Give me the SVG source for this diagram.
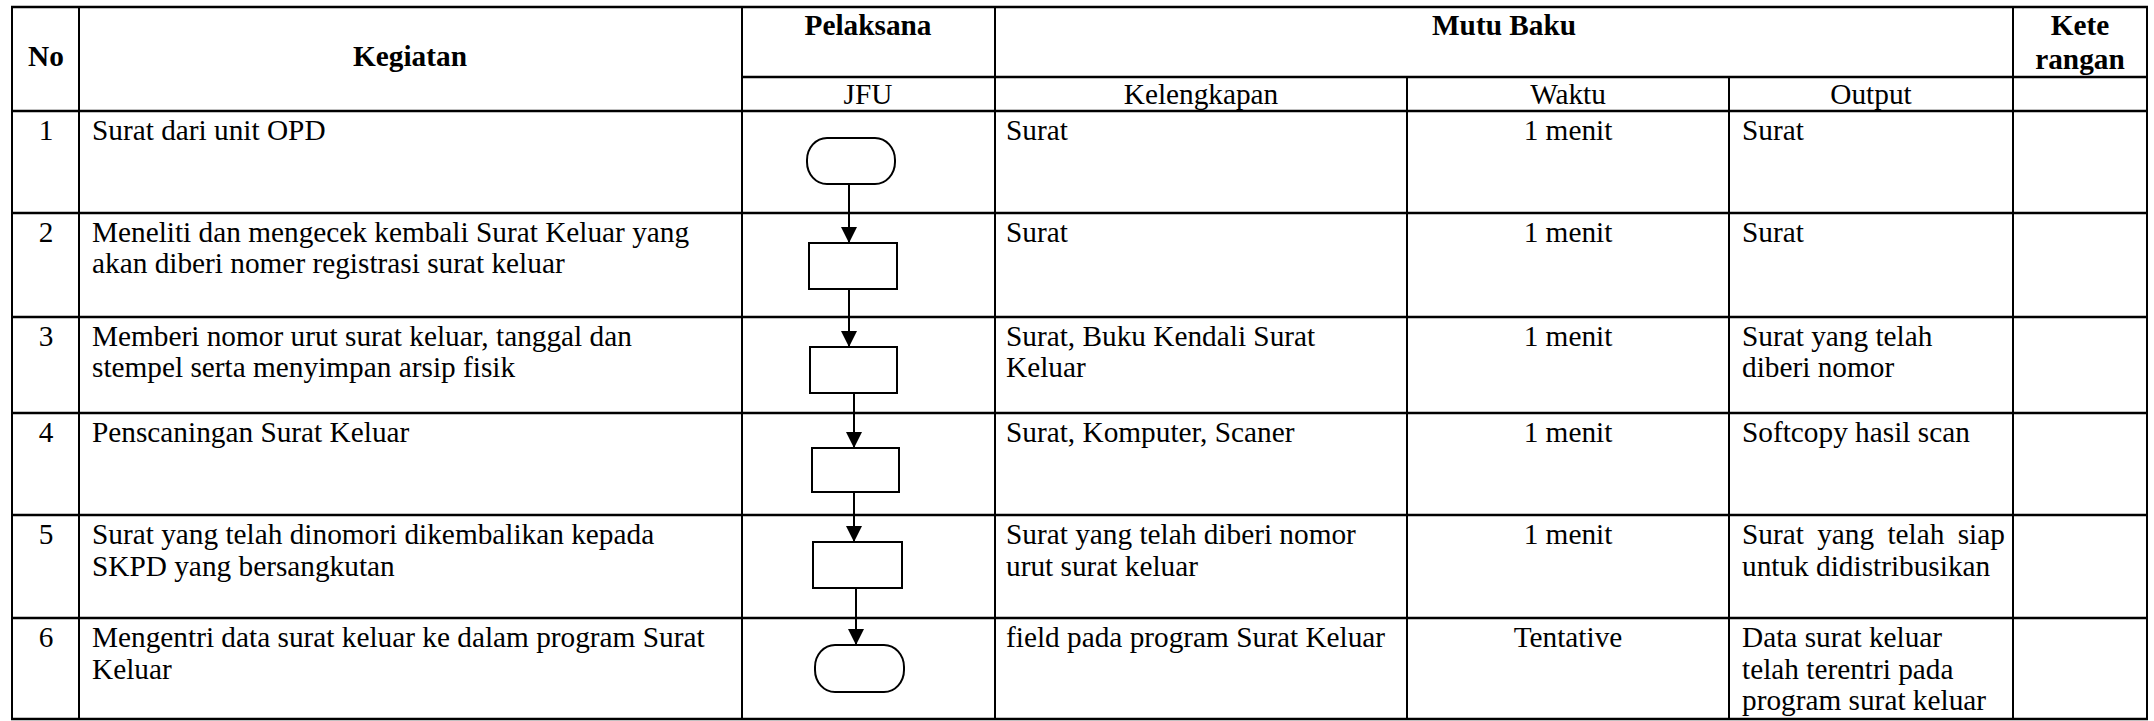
<svg xmlns="http://www.w3.org/2000/svg" width="2154" height="721" viewBox="0 0 2154 721">
<style>
text{font-family:"Liberation Serif","Times New Roman",serif;font-size:29.3px;fill:#000}
.b{font-weight:bold}
.c{text-anchor:middle}
.grid line{stroke:#000;stroke-width:2}
.grid .h{stroke-width:2.6}
.shape{fill:#fff;stroke:#000;stroke-width:2}
.conn line{stroke:#000;stroke-width:2}
</style>
<defs>
<marker id="ah" markerUnits="userSpaceOnUse" markerWidth="16" markerHeight="16" viewBox="0 0 16 16" refX="16" refY="8" orient="auto">
<path d="M0,0 L16,8 L0,16 Z" fill="#000"/>
</marker>
</defs>
<rect width="2154" height="721" fill="#fff"/>
<g id="grid" class="grid">
<line class="h" x1="11" y1="7" x2="2148" y2="7"/>
<line class="h" x1="742" y1="77" x2="2148" y2="77"/>
<line class="h" x1="11" y1="111" x2="2148" y2="111"/>
<line class="h" x1="11" y1="213" x2="2148" y2="213"/>
<line class="h" x1="11" y1="317" x2="2148" y2="317"/>
<line class="h" x1="11" y1="413" x2="2148" y2="413"/>
<line class="h" x1="11" y1="515" x2="2148" y2="515"/>
<line class="h" x1="11" y1="618" x2="2148" y2="618"/>
<line class="h" x1="11" y1="719" x2="2148" y2="719"/>
<line x1="12" y1="7" x2="12" y2="719"/>
<line x1="79" y1="7" x2="79" y2="719"/>
<line x1="742" y1="7" x2="742" y2="719"/>
<line x1="995" y1="7" x2="995" y2="719"/>
<line x1="1407" y1="77" x2="1407" y2="719"/>
<line x1="1729" y1="77" x2="1729" y2="719"/>
<line x1="2013" y1="7" x2="2013" y2="719"/>
<line x1="2147" y1="7" x2="2147" y2="719"/>
</g>
<g id="header">
<text class="b c" x="46" y="66">No</text>
<text class="b c" x="410" y="66">Kegiatan</text>
<text class="b c" x="868" y="35">Pelaksana</text>
<text class="b c" x="1504" y="35">Mutu Baku</text>
<text class="b c" x="2080" y="35">Kete</text>
<text class="b c" x="2080" y="69">rangan</text>
<text class="c" x="868" y="104">JFU</text>
<text class="c" x="1201" y="104">Kelengkapan</text>
<text class="c" x="1568" y="104">Waktu</text>
<text class="c" x="1871" y="104">Output</text>
</g>
<g id="row1">
<text class="c" x="46" y="140">1</text>
<text x="92" y="140">Surat dari unit OPD</text>
<text x="1006" y="140">Surat</text>
<text class="c" x="1568" y="140">1 menit</text>
<text x="1742" y="140">Surat</text>
</g>
<g id="row2">
<text class="c" x="46" y="242">2</text>
<text x="92" y="242">Meneliti dan mengecek kembali Surat Keluar yang</text>
<text x="92" y="273">akan diberi nomer registrasi surat keluar</text>
<text x="1006" y="242">Surat</text>
<text class="c" x="1568" y="242">1 menit</text>
<text x="1742" y="242">Surat</text>
</g>
<g id="row3">
<text class="c" x="46" y="346">3</text>
<text x="92" y="346">Memberi nomor urut surat keluar, tanggal dan</text>
<text x="92" y="377">stempel serta menyimpan arsip fisik</text>
<text x="1006" y="346">Surat, Buku Kendali Surat</text>
<text x="1006" y="377">Keluar</text>
<text class="c" x="1568" y="346">1 menit</text>
<text x="1742" y="346">Surat yang telah</text>
<text x="1742" y="377">diberi nomor</text>
</g>
<g id="row4">
<text class="c" x="46" y="442">4</text>
<text x="92" y="442">Penscaningan Surat Keluar</text>
<text x="1006" y="442">Surat, Komputer, Scaner</text>
<text class="c" x="1568" y="442">1 menit</text>
<text x="1742" y="442">Softcopy hasil scan</text>
</g>
<g id="row5">
<text class="c" x="46" y="544">5</text>
<text x="92" y="544">Surat yang telah dinomori dikembalikan kepada</text>
<text x="92" y="576">SKPD yang bersangkutan</text>
<text x="1006" y="544">Surat yang telah diberi nomor</text>
<text x="1006" y="576">urut surat keluar</text>
<text class="c" x="1568" y="544">1 menit</text>
<text x="1742" y="544" word-spacing="6">Surat yang telah siap</text>
<text x="1742" y="576">untuk didistribusikan</text>
</g>
<g id="row6">
<text class="c" x="46" y="647">6</text>
<text x="92" y="647">Mengentri data surat keluar ke dalam program Surat</text>
<text x="92" y="679">Keluar</text>
<text x="1006" y="647">field pada program Surat Keluar</text>
<text class="c" x="1568" y="647">Tentative</text>
<text x="1742" y="647">Data surat keluar</text>
<text x="1742" y="679">telah terentri pada</text>
<text x="1742" y="710">program surat keluar</text>
</g>
<g id="node-start"><rect class="shape" x="807" y="138" width="88" height="46" rx="20" ry="22"/></g>
<g id="node-2"><rect class="shape" x="809" y="243" width="88" height="46"/></g>
<g id="node-3"><rect class="shape" x="810" y="347" width="87" height="46"/></g>
<g id="node-4"><rect class="shape" x="812" y="448" width="87" height="44"/></g>
<g id="node-5"><rect class="shape" x="813" y="542" width="89" height="46"/></g>
<g id="node-end"><rect class="shape" x="815" y="645" width="89" height="47" rx="20" ry="22"/></g>
<g id="connectors" class="conn">
<line x1="849" y1="184" x2="849" y2="243" marker-end="url(#ah)"/>
<line x1="849" y1="289" x2="849" y2="347" marker-end="url(#ah)"/>
<line x1="854" y1="393" x2="854" y2="448" marker-end="url(#ah)"/>
<line x1="854" y1="492" x2="854" y2="542" marker-end="url(#ah)"/>
<line x1="856" y1="588" x2="856" y2="645" marker-end="url(#ah)"/>
</g>
</svg>
